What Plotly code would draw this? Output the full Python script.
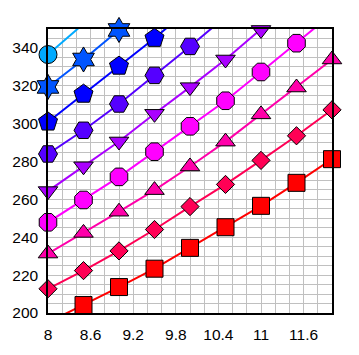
import plotly.graph_objects as go

x_vals = [8, 8.5, 9, 9.5, 10, 10.5, 11, 11.5, 12]

s_circle = [336.5, 352.5, 369.0]
s_star = [319.4, 333.9, 349.5, 366.0]
s_pentagon = [300.9, 315.6, 330.4, 345.1, 361.0]
s_hexagon = [284.0, 296.5, 310.4, 325.5, 340.8, 356.5]
s_tridown = [264.4, 277.5, 290.6, 305.2, 319.3, 333.9, 349.5, 366.0]
s_octagon = [247.9, 259.7, 271.9, 285.2, 298.6, 312.1, 327.3, 342.5, 358.0]
s_triup = [231.4, 242.3, 253.5, 264.9, 277.4, 290.5, 304.9, 319.1, 333.9]
s_diamond = [212.8, 222.4, 232.8, 244.1, 256.2, 267.9, 280.6, 293.6, 307.3]
s_square = [195.0, 204.2, 213.7, 223.4, 234.4, 245.3, 256.6, 268.75, 281.25]

series = [
    (s_square, "square", "#ff0000", 17),
    (s_diamond, "diamond", "#ff0055", 14),
    (s_triup, "triangle-up", "#ff00aa", 17),
    (s_octagon, "octagon", "#ff00ff", 19),
    (s_tridown, "triangle-down", "#aa00ff", 17),
    (s_hexagon, "hexagon2", "#5500ff", 19),
    (s_pentagon, "pentagon", "#0000ff", 20),
    (s_star, "hexagram", "#0055ff", 19),
    (s_circle, "circle", "#00aaff", 18),
]

fig = go.Figure()
for ys, sym, col, sz in series:
    fig.add_trace(go.Scatter(
        x=x_vals[:len(ys)], y=ys, mode="lines+markers",
        line=dict(color=col, width=2),
        marker=dict(symbol=sym, color=col, size=sz, line=dict(color="#000000", width=1)),
        cliponaxis=False, showlegend=False, hoverinfo="skip",
    ))

axis_common = dict(
    showline=True, linecolor="#000000", linewidth=1.5, mirror=True,
    showgrid=True, gridcolor="#c0c0c0", gridwidth=1, zeroline=False,
    ticks="outside", tickcolor="rgba(0,0,0,0)",
    tickfont=dict(family="Liberation Sans, Arial", size=15.5, color="#000000"),
)
fig.update_xaxes(range=[8, 12], tick0=8, dtick=0.6, ticklen=7,
                 minor=dict(tick0=8, dtick=0.2, showgrid=True, gridcolor="#c0c0c0", gridwidth=1),
                 **axis_common)
fig.update_yaxes(range=[200, 350], tick0=200, dtick=20, ticklen=5,
                 minor=dict(tick0=200, dtick=5, showgrid=True, gridcolor="#c0c0c0", gridwidth=1),
                 **axis_common)
fig.update_layout(width=359, height=355, margin=dict(l=44, r=27, t=29, b=38),
                  paper_bgcolor="white", plot_bgcolor="white")
fig.write_html("out.html")
